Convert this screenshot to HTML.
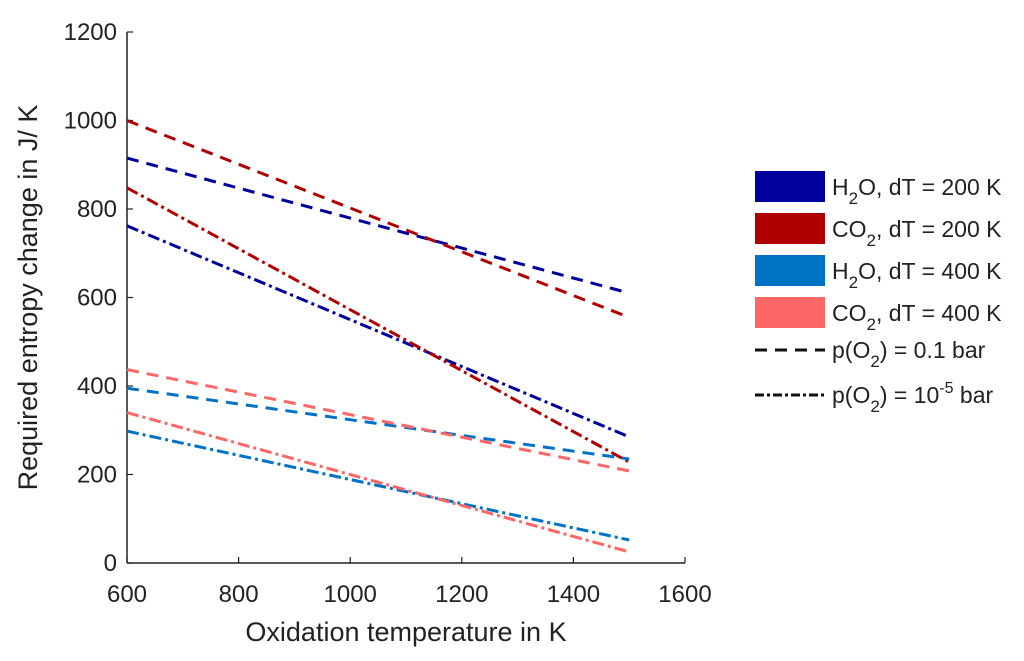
<!DOCTYPE html>
<html><head><meta charset="utf-8"><style>
body{margin:0;background:#fff;}
svg text{font-family:"Liberation Sans",Arial,sans-serif;fill:#222;}
</style></head><body>
<svg id="chart" width="1024" height="656" xmlns="http://www.w3.org/2000/svg">
<g id="axes"></g><g id="series"></g><g id="legend"></g>
</svg>
<script>
const temps = [600, 1500];
const h2o200Dash = [915, 610];
const co2200Dash = [1000, 555];
const h2o200Dot = [762, 285];
const co2200Dot = [848, 228];
const h2o400Dash = [395, 235];
const co2400Dash = [437, 208];
const h2o400Dot = [298, 52];
const co2400Dot = [340, 25];
const xTicks = [600, 800, 1000, 1200, 1400, 1600];
const yTicks = [0, 200, 400, 600, 800, 1000, 1200];

const NS = "http://www.w3.org/2000/svg";
const X0 = 127, X1 = 685, Y0 = 563, Y1 = 32;
const xs = v => X0 + (v - 600) / 1000 * (X1 - X0);
const ys = v => Y0 - v / 1200 * (Y0 - Y1);
function mk(tag, attrs, parent, text) {
  const e = document.createElementNS(NS, tag);
  for (const k in attrs) e.setAttribute(k, attrs[k]);
  if (text !== undefined) e.textContent = text;
  parent.appendChild(e);
  return e;
}
const axes = document.getElementById('axes');
let a = mk('line', {x1: X0, y1: Y0, x2: X1, y2: Y0, stroke: '#222', 'stroke-width': 1.5}, axes);


a = mk('line', {x1: X0, y1: Y0, x2: X0, y2: Y1, stroke: '#222', 'stroke-width': 1.5}, axes);


xTicks.forEach(t => {
  mk('line', {x1: xs(t), y1: Y0, x2: xs(t), y2: Y0 - 6, stroke: '#222', 'stroke-width': 1.2}, axes);
  const tx = mk('text', {x: xs(t), y: Y0 + 39, 'text-anchor': 'middle', 'font-size': 24}, axes, String(t));
  
  
});
yTicks.forEach(t => {
  mk('line', {x1: X0, y1: ys(t), x2: X0 + 6, y2: ys(t), stroke: '#222', 'stroke-width': 1.2}, axes);
  const tx = mk('text', {x: X0 - 10, y: ys(t) + 8, 'text-anchor': 'end', 'font-size': 24}, axes, String(t));
  
  
});
let tt = mk('text', {x: (X0 + X1) / 2, y: 641, 'text-anchor': 'middle', 'font-size': 27}, axes, 'Oxidation temperature in K');


tt = mk('text', {x: 0, y: 0, 'text-anchor': 'middle', 'font-size': 27, transform: 'translate(37,' + ((Y0 + Y1) / 2) + ') rotate(-90)'}, axes, 'Required entropy change in J/ K');



const DASH = '12,8', DOT = '12,4,3,4';
const series = [
  ['h2o-200-dash', h2o200Dash, '#00009c', DASH],
  ['co2-200-dash', co2200Dash, '#b00000', DASH],
  ['h2o-200-dashdot', h2o200Dot, '#00009c', DOT],
  ['co2-200-dashdot', co2200Dot, '#b00000', DOT],
  ['h2o-400-dash', h2o400Dash, '#0072c6', DASH],
  ['co2-400-dash', co2400Dash, '#ff6666', DASH],
  ['h2o-400-dashdot', h2o400Dot, '#0072c6', DOT],
  ['co2-400-dashdot', co2400Dot, '#ff6666', DOT]
];
const sg = document.getElementById('series');
series.forEach(s => {
  const pts = temps.map((t, i) => xs(t) + ',' + ys(s[1][i])).join(' ');
  const l = mk('polyline', {points: pts, fill: 'none', stroke: s[2], 'stroke-width': 3, 'stroke-dasharray': s[3]}, sg);
  
  
});

const lg = document.getElementById('legend');
const boxes = [
  ['#00009c', 'H', 'O, dT = 200 K'],
  ['#b00000', 'CO', ', dT = 200 K'],
  ['#0072c6', 'H', 'O, dT = 400 K'],
  ['#ff6666', 'CO', ', dT = 400 K']
];
boxes.forEach((b, i) => {
  const y = 171 + i * 42;
  const r = mk('rect', {x: 755, y: y, width: 70, height: 31, fill: b[0]}, lg);
  
  
  const t = mk('text', {x: 832, y: y + 24, 'font-size': 23}, lg);
  
  
  mk('tspan', {}, t, b[1]);
  mk('tspan', {dy: 9, 'font-size': 17}, t, '2');
  mk('tspan', {dy: -9}, t, b[2]);
});
[[350, DASH, 'p(O', ') = 0.1 bar', null], [395, '9,3,3,3', 'p(O', ') = 10', '-5']].forEach(d => {
  const l = mk('line', {x1: 755, y1: d[0], x2: 825, y2: d[0], stroke: '#111', 'stroke-width': 3, 'stroke-dasharray': d[1]}, lg);
  
  
  const t = mk('text', {x: 832, y: d[0] + 8, 'font-size': 23}, lg);
  
  
  mk('tspan', {}, t, d[2]);
  mk('tspan', {dy: 9, 'font-size': 17}, t, '2');
  mk('tspan', {dy: -9}, t, d[3]);
  if (d[4]) {
    mk('tspan', {dy: -10, 'font-size': 16}, t, d[4]);
    mk('tspan', {dy: 10}, t, ' bar');
  }
});
</script>
</body></html>
